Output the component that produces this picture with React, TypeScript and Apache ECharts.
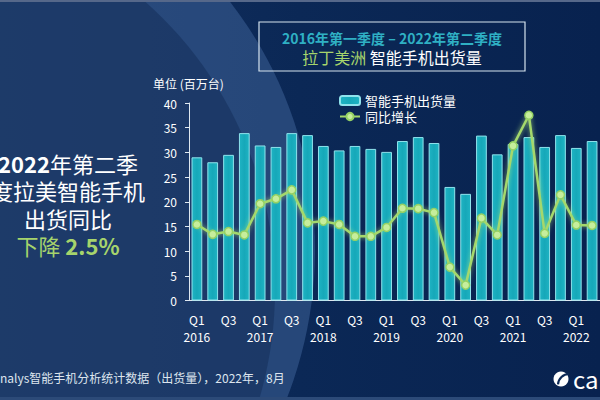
import React, { useEffect, useRef } from "react";
import * as echarts from "echarts";

const quarters = [
  "Q1\n2016", "Q2", "Q3", "Q4",
  "Q1\n2017", "Q2", "Q3", "Q4",
  "Q1\n2018", "Q2", "Q3", "Q4",
  "Q1\n2019", "Q2", "Q3", "Q4",
  "Q1\n2020", "Q2", "Q3", "Q4",
  "Q1\n2021", "Q2", "Q3", "Q4",
  "Q1\n2022", "Q2",
];

// Smartphone shipments, millions of units
const shipments = [
  29.0, 28.0, 29.5, 33.9,
  31.4, 31.1, 33.9, 33.5,
  31.3, 30.4, 31.3, 30.7,
  30.1, 32.3, 33.1, 31.9,
  23.0, 21.6, 33.4, 29.6,
  31.7, 33.1, 31.1, 33.5,
  30.9, 32.3,
];

// Year-over-year growth, %
const growth = [
  -2.0, -7.0, -5.6, -7.3,
  8.5, 11.0, 15.5, -1.2,
  -0.3, -2.0, -8.0, -8.0,
  -3.5, 6.2, 6.0, 4.0,
  -23.6, -32.7, 1.2, -7.3,
  37.8, 53.3, -6.5, 13.0,
  -2.3, -2.5,
];

const yTicks = [0, 40, 5];

const FONT = '"Noto Sans CJK SC", "Noto Sans", sans-serif';

export default function App() {
  const ref = useRef<HTMLDivElement>(null);
  useEffect(() => {
    document.body.style.margin = "0";
    if (!ref.current) return;
    const chart = echarts.init(ref.current, null, { renderer: "svg" });
    chart.setOption({
      animation: false,
      textStyle: { fontFamily: FONT },
      backgroundColor: {
        type: "linear", x: 0, y: 0, x2: 1, y2: 0,
        colorStops: [
          { offset: 0, color: "#13305f" },
          { offset: 0.5, color: "#0b2856" },
          { offset: 1, color: "#08224f" },
        ],
      },
      graphic: [
        {
          type: "circle", z: -20, silent: true,
          shape: { cx: -90, cy: 250, r: 405 },
          style: { fill: "rgba(70,108,165,0.45)" },
        },
        {
          type: "circle", z: -19, silent: true,
          shape: { cx: -110, cy: 290, r: 385 },
          style: { fill: "rgba(22,48,92,0.6)" },
        },
        {
          type: "rect", z: -18, silent: true,
          shape: { x: 0, y: 0, width: 600, height: 2 },
          style: { fill: "#56688a" },
        },
        {
          type: "rect", z: -18, silent: true,
          shape: { x: 0, y: 397, width: 600, height: 3 },
          style: { fill: "#2c4a78" },
        },
        // Title box
        {
          type: "rect",
          shape: { x: 259, y: 22, width: 266, height: 49 },
          style: { fill: "rgba(0,0,0,0)", stroke: "#d5e3ee", lineWidth: 1.2 },
        },
        {
          type: "text", x: 392, y: 38,
          style: {
            text: "2016年第一季度 – 2022年第二季度",
            fill: "#2fb0c4", font: `bold 14px ${FONT}`,
            align: "center", verticalAlign: "middle",
          },
        },
        {
          type: "text", x: 392, y: 57,
          style: {
            text: "{g|拉丁美洲} {w|智能手机出货量}",
            align: "center", verticalAlign: "middle",
            rich: {
              g: { fill: "#a6d46c", font: `16px ${FONT}` },
              w: { fill: "#ffffff", font: `16px ${FONT}` },
            },
          },
        },
        {
          type: "text", x: 153, y: 83,
          style: {
            text: "单位 (百万台)", fill: "#ffffff",
            font: `12px ${FONT}`, verticalAlign: "middle",
          },
        },
        // Left headline
        {
          type: "text", x: 68, y: 204,
          style: {
            text: "{b|2022}{w|年第二季}\n{w|度拉美智能手机}\n{w|出货同比}\n{g|下降 }{gb|2.5%}",
            align: "center", verticalAlign: "middle",
            lineHeight: 27.5,
            rich: {
              b: { fill: "#ffffff", font: `bold 22px ${FONT}`, lineHeight: 27.5 },
              w: { fill: "#ffffff", font: `22px ${FONT}`, lineHeight: 27.5 },
              g: { fill: "#a6d46c", font: `22px ${FONT}`, lineHeight: 27.5 },
              gb: { fill: "#a6d46c", font: `bold 22px ${FONT}`, lineHeight: 27.5 },
            },
          },
        },
        // Footer
        {
          type: "text", x: 0, y: 377,
          style: {
            text: "nalys智能手机分析统计数据（出货量），2022年，8月",
            fill: "#dde5ee", font: `12px ${FONT}`, verticalAlign: "middle",
          },
        },
        // Logo
        {
          type: "circle", z: 5,
          shape: { cx: 561, cy: 379, r: 7.5 },
          style: { fill: "#ffffff" },
        },
        {
          type: "arc", z: 6,
          shape: { cx: 569, cy: 385, r: 11, startAngle: Math.PI * 1.02, endAngle: Math.PI * 1.5, clockwise: true },
          style: { stroke: "#0b2856", lineWidth: 2.2, fill: "none" },
        },
        {
          type: "text", x: 573, y: 378,
          style: { text: "canalys", fill: "#ffffff", font: `24px ${FONT}`, verticalAlign: "middle" },
        },
      ],
      legend: {
        orient: "vertical",
        left: 334, top: 89,
        itemGap: 3, itemWidth: 20, itemHeight: 9,
        textStyle: { color: "#ffffff", fontSize: 13, fontFamily: FONT },
        data: ["智能手机出货量", "同比增长"],
      },
      grid: { left: 189, top: 103, bottom: 99.5, right: -3, containLabel: false },
      xAxis: {
        type: "category",
        data: quarters,
        axisLine: { lineStyle: { color: "#dfe8f0", width: 1 } },
        axisTick: { show: false },
        axisLabel: {
          interval: 1, color: "#ffffff", fontSize: 12, lineHeight: 17,
          margin: 10, fontFamily: FONT,
        },
      },
      yAxis: [
        {
          type: "value",
          min: yTicks[0], max: yTicks[1], interval: yTicks[2],
          axisLine: { show: true, lineStyle: { color: "#dfe8f0", width: 1 } },
          axisTick: { show: true, length: 4, lineStyle: { color: "#dfe8f0" } },
          splitLine: { show: false },
          axisLabel: { color: "#ffffff", fontSize: 12, margin: 12, fontFamily: FONT },
        },
        {
          type: "value", min: -40.5, max: 59.5, show: false,
          splitLine: { show: false },
        },
      ],
      series: [
        {
          name: "智能手机出货量",
          type: "bar",
          data: shipments,
          barWidth: "68%",
          itemStyle: {
            color: {
              type: "linear", x: 0, y: 0, x2: 1, y2: 0,
              colorStops: [
                { offset: 0, color: "#1fb3c3" },
                { offset: 0.5, color: "#16a8b9" },
                { offset: 1, color: "#1fb3c3" },
              ],
            },
            borderColor: "#8fe3ec", borderWidth: 1,
          },
        },
        {
          name: "同比增长",
          type: "line",
          yAxisIndex: 1,
          data: growth,
          symbol: "circle",
          symbolSize: 8,
          lineStyle: { color: "#a4d86c", width: 2.5, shadowBlur: 5, shadowColor: "rgba(180,235,120,0.8)" },
          itemStyle: { color: "#c6ee9c", borderColor: "#95d164", borderWidth: 1.5 },
          z: 5,
        },
      ],
    });
    return () => chart.dispose();
  }, []);
  return (
    <div
      ref={ref}
      style={{ position: "fixed", left: 0, top: 0, width: 600, height: 400 }}
    />
  );
}
